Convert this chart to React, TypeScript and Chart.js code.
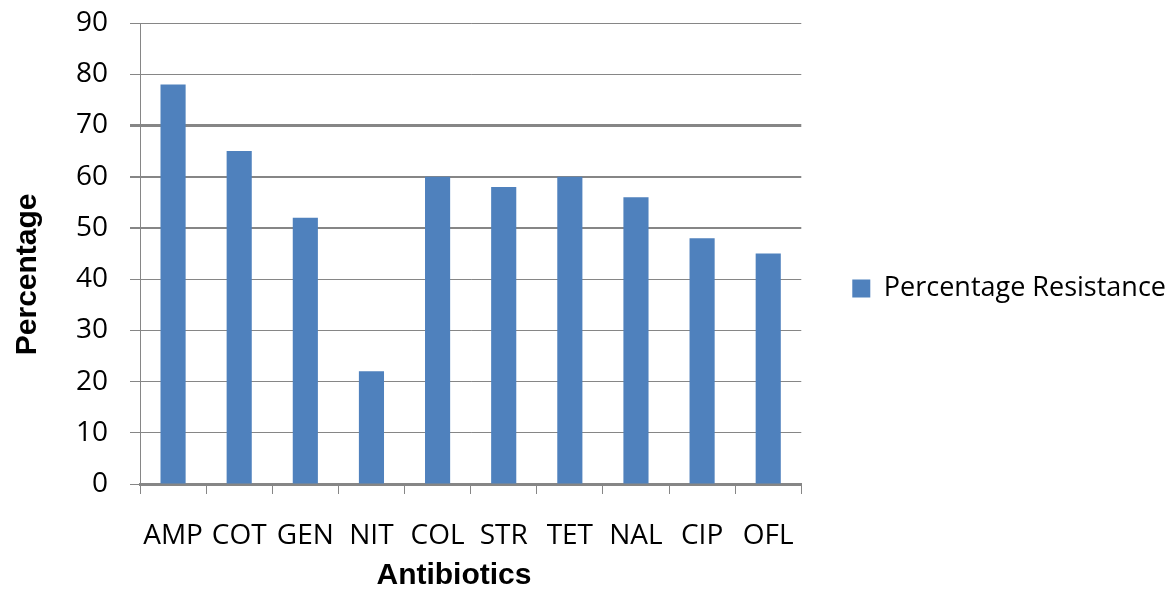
import { useEffect, useRef } from "react";
import { Chart, registerables } from "chart.js";

Chart.register(...registerables);

const categories = ["AMP", "COT", "GEN", "NIT", "COL", "STR", "TET", "NAL", "CIP", "OFL"];
const resistance = [78, 65, 52, 22, 60, 58, 60, 56, 48, 45];
const yTickValues = [0, 10, 20, 30, 40, 50, 60, 70, 80, 90];
const seriesLabel = "Percentage Resistance";
const xTitle = "Antibiotics";
const yTitle = "Percentage";

const GRID = "#868686";
const BAR = "#4F81BD";

// let the right-hand legend be as wide as its text needs
const legendWidthPlugin = {
  id: "legendWidth",
  beforeLayout(chart: any) {
    const lg = chart.legend;
    if (lg && !lg.__patched) {
      const orig = lg.fit;
      lg.fit = function (this: any) {
        this.maxWidth = 2000;
        return orig.call(this);
      };
      lg.__patched = true;
    }
  },
};

export default function App() {
  const ref = useRef<HTMLCanvasElement | null>(null);

  useEffect(() => {
    document.body.style.margin = "0";
    if (!ref.current) return;
    const chart = new Chart(ref.current, {
      type: "bar",
      data: {
        labels: categories,
        datasets: [
          {
            label: seriesLabel,
            data: resistance,
            backgroundColor: BAR,
            borderWidth: 0,
            barPercentage: 0.38,
            categoryPercentage: 1.0,
          },
        ],
      },
      plugins: [legendWidthPlugin],
      options: {
        responsive: false,
        animation: false,
        layout: { padding: { top: 23, right: -6, bottom: 36, left: 0 } },
        plugins: {
          legend: {
            position: "right",
            fullSize: true,
            labels: {
              boxWidth: 18,
              boxHeight: 18,
              padding: 51,
              color: "#000",
              font: { family: "Open Sans", size: 27 },
            },
          },
          tooltip: { enabled: false },
        },
        scales: {
          x: {
            afterFit: (s: any) => {
              s.height = 70;
              s.paddingLeft = 0;
              s.paddingRight = 0;
            },
            grid: {
              offset: true,
              drawOnChartArea: false,
              drawTicks: true,
              tickLength: 10,
              color: GRID,
              lineWidth: 1,
            },
            border: { color: GRID, width: 3 },
            ticks: {
              color: "#000",
              font: { family: "Open Sans", size: 28 },
              padding: 25,
              maxRotation: 0,
              autoSkip: false,
            },
            title: {
              display: true,
              text: xTitle + "    ",
              color: "#000",
              font: { family: "Liberation Sans", size: 30, weight: "bold" },
              padding: { top: 0, bottom: -40 },
            },
          },
          y: {
            min: 0,
            max: 90,
            afterFit: (s: any) => {
              s.width = 140;
              s.paddingTop = 0;
              s.paddingBottom = 0;
            },
            afterBuildTicks: (s: any) => {
              s.ticks = yTickValues.map((v) => ({ value: v }));
            },
            grid: {
              color: GRID,
              tickLength: 10,
              lineWidth: (ctx: any) => {
                const v = ctx.tick ? ctx.tick.value : 0;
                if (v === 70) return 3;
                if (v === 60 || v === 50) return 2;
                return 1;
              },
            },
            border: { color: GRID, width: 1 },
            ticks: {
              color: "#000",
              font: { family: "Open Sans", size: 28 },
              padding: 22,
            },
            title: {
              display: true,
              text: yTitle + "     ",
              color: "#000",
              font: { family: "Liberation Sans", size: 30, weight: "bold" },
              padding: { top: 10, bottom: 0 },
            },
          },
        },
      },
    });
    return () => chart.destroy();
  }, []);

  return (
    <div style={{ width: 1170, height: 590 }}>
      <canvas ref={ref} width={1170} height={590} />
    </div>
  );
}
